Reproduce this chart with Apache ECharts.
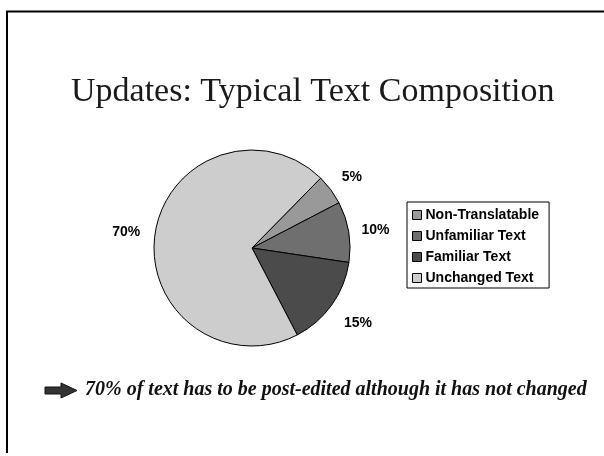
<!DOCTYPE html>
<html><head><meta charset="utf-8">
<script src="https://cdn.jsdelivr.net/npm/echarts@6/dist/echarts.min.js"></script>
<style>html,body{margin:0;padding:0;background:#fff;}#c{width:604px;height:456px;}</style>
</head><body><div id="c"></div>
<script>
const titleText = 'Updates: Typical Text Composition';
const noteText = '70% of text has to be post-edited although it has not changed';
const categories = ['Non-Translatable', 'Unfamiliar Text', 'Familiar Text', 'Unchanged Text'];
const values = [5, 10, 15, 70];
const sliceColors = ['#999999', '#6f6f6f', '#4b4b4b', '#cdcdcd'];
// per-slice label placement (outward distance, text gap)
const labelLens = [21, 10, 31, 12];
const labelGaps = [-6, 3, -13, 3];

const chart = echarts.init(document.getElementById('c'), null, {renderer: 'canvas'});
chart.setOption({
  animation: false,
  backgroundColor: '#ffffff',
  title: {
    text: titleText, left: 66, top: 70,
    textStyle: {fontFamily: '"Liberation Serif", "Times New Roman", serif', fontWeight: 'normal', fontSize: 34, color: '#1a1a1a'}
  },
  legend: {
    orient: 'vertical', left: 407, top: 202,
    data: categories,
    itemWidth: 9, itemHeight: 9, itemGap: 7,
    icon: 'rect',
    padding: [6, 10, 3, 5],
    borderColor: '#000', borderWidth: 1, borderRadius: 0,
    textStyle: {fontFamily: 'Arial, "Liberation Sans", sans-serif', fontWeight: 'bold', fontSize: 14, color: '#000', padding: [0, 0, 0, -1]},
    itemStyle: {borderColor: '#000', borderWidth: 1}
  },
  graphic: [
    {type: 'polyline', shape: {points: [[7, 453], [7, 11.5], [604, 11.5]]}, style: {stroke: '#000', lineWidth: 2, fill: null}},
    {type: 'polygon', shape: {points: [[45, 387], [61, 387], [61, 383], [77, 390.5], [61, 398], [61, 394], [45, 394]]}, style: {fill: '#333', stroke: '#111', lineWidth: 1}},
    {type: 'text', left: 85, top: 380, style: {text: noteText, font: 'italic bold 20px "Liberation Serif", "Times New Roman", serif', fill: '#111'}}
  ],
  series: [{
    type: 'pie',
    center: [252, 248],
    radius: [0, 98],
    startAngle: 45.5,
    clockwise: true,
    avoidLabelOverlap: false,
    data: categories.map((n, i) => ({
      name: n, value: values[i],
      itemStyle: {color: sliceColors[i]},
      label: {distanceToLabelLine: labelGaps[i]},
      labelLine: {length: labelLens[i], length2: 0}
    })),
    itemStyle: {borderColor: '#000', borderWidth: 1},
    label: {
      show: true, position: 'outside', formatter: '{c}%',
      fontFamily: 'Arial, "Liberation Sans", sans-serif', fontWeight: 'bold', fontSize: 14, color: '#000'
    },
    labelLine: {show: false},
    emphasis: {disabled: true}
  }]
});
</script></body></html>
